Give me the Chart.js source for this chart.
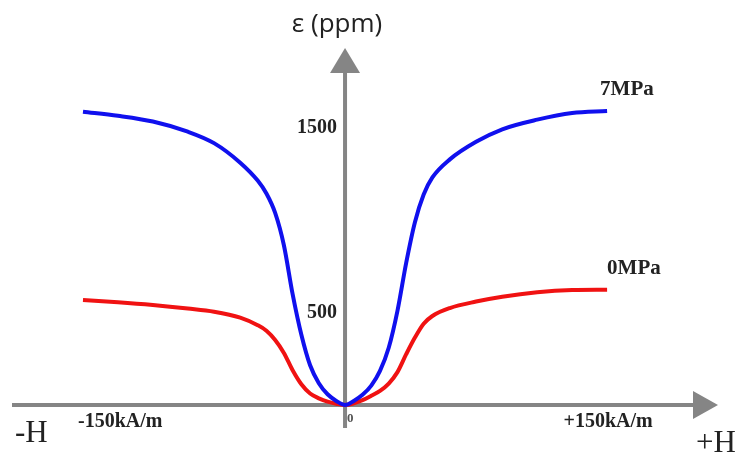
<!DOCTYPE html>
<html>
<head>
<meta charset="utf-8">
<title>Magnetostriction vs field</title>
<script src="https://cdn.jsdelivr.net/npm/chart.js@4/dist/chart.umd.min.js"></script>
<style>
  html, body { margin: 0; padding: 0; background: #fff; }
  #wrap { width: 739px; height: 453px; }
</style>
</head>
<body>
<div id="wrap"><canvas id="strainChart" width="739" height="453"></canvas></div>
<script>
// field H (kA/m) and strain (ppm) for each prestress
const fieldH = [-150, -130, -110, -90, -75, -60, -50, -45, -40, -35, -30, -25, -20, -15, -10, -5, 0,
  5, 10, 15, 20, 25, 30, 35, 40, 45, 50, 60, 75, 90, 110, 130, 150];
const strain7MPa = [1588, 1566, 1535, 1480, 1418, 1312, 1215, 1145, 1040, 865, 600, 380, 215, 118, 58, 22, 0,
  22, 55, 105, 185, 310, 510, 770, 990, 1140, 1232, 1330, 1425, 1493, 1545, 1581, 1592];
const strain0MPa = [568, 556, 541, 522, 505, 473, 432, 402, 352, 282, 188, 112, 62, 36, 18, 7, 0,
  9, 26, 50, 76, 116, 178, 275, 365, 440, 482, 525, 560, 586, 610, 622, 624];

const seriesNames = ['7MPa', '0MPa'];
const yTickValues = [1500, 500];
const xTickValues = [-150, 150];
const xTickLabels = ['-150kA/m', '+150kA/m'];

const axisGrey = '#858585';

function toPoints(ys) {
  return fieldH.map((h, i) => ({ x: h, y: ys[i] }));
}

// draws the cross-shaped axes with arrows, tick text and curve names
const crossAxes = {
  id: 'crossAxes',
  beforeDatasetsDraw(chart) {
    const { ctx, scales: { x, y } } = chart;
    const ox = x.getPixelForValue(0);
    const oy = y.getPixelForValue(0);
    ctx.save();
    ctx.strokeStyle = axisGrey;
    ctx.fillStyle = axisGrey;
    ctx.lineWidth = 4;
    // horizontal axis
    ctx.beginPath();
    ctx.moveTo(12, oy);
    ctx.lineTo(696, oy);
    ctx.stroke();
    ctx.beginPath();
    ctx.moveTo(718, oy);
    ctx.lineTo(693, oy - 14);
    ctx.lineTo(693, oy + 14);
    ctx.closePath();
    ctx.fill();
    // vertical axis
    ctx.beginPath();
    ctx.moveTo(ox, oy + 23);
    ctx.lineTo(ox, 70);
    ctx.stroke();
    ctx.beginPath();
    ctx.moveTo(ox, 48);
    ctx.lineTo(ox - 15, 73);
    ctx.lineTo(ox + 15, 73);
    ctx.closePath();
    ctx.fill();
    ctx.restore();
  },
  afterDatasetsDraw(chart) {
    const { ctx, scales: { x, y } } = chart;
    const ox = x.getPixelForValue(0);
    const oy = y.getPixelForValue(0);
    ctx.save();
    ctx.fillStyle = '#222';

    // y title
    ctx.font = '26px "Open Sans", sans-serif';
    ctx.textAlign = 'center';
    ctx.textBaseline = 'alphabetic';
    ctx.fillText('ε (ppm)', ox - 8, 32);

    // y ticks
    ctx.font = 'bold 20px "Liberation Serif", serif';
    ctx.textAlign = 'right';
    ctx.textBaseline = 'middle';
    yTickValues.forEach(v => ctx.fillText(String(v), ox - 8, y.getPixelForValue(v)));

    // origin
    ctx.font = 'bold 13px "Liberation Serif", serif';
    ctx.fillStyle = '#555';
    ctx.textAlign = 'left';
    ctx.fillText('0', ox + 2, oy + 14);
    ctx.fillStyle = '#222';

    // x ticks
    ctx.font = 'bold 20px "Liberation Serif", serif';
    ctx.textBaseline = 'alphabetic';
    ctx.textAlign = 'left';
    ctx.fillText(xTickLabels[0], x.getPixelForValue(xTickValues[0]) - 5, oy + 22);
    ctx.textAlign = 'center';
    ctx.fillText(xTickLabels[1], x.getPixelForValue(xTickValues[1]) + 1, oy + 22);

    // field direction labels
    ctx.font = '31px "Liberation Serif", serif';
    ctx.textAlign = 'left';
    ctx.fillText('-H', 15, 442);
    ctx.fillText('+H', 696, 452);

    // curve names at the right-hand ends
    ctx.font = 'bold 21px "Liberation Serif", serif';
    chart.data.datasets.forEach((ds, i) => {
      const last = ds.data[ds.data.length - 1];
      const px = x.getPixelForValue(last.x);
      const py = y.getPixelForValue(last.y);
      ctx.fillText(seriesNames[i], px - 7 + i * 7, py - 16);
    });
    ctx.restore();
  }
};

new Chart(document.getElementById('strainChart'), {
  type: 'scatter',
  data: {
    datasets: [
      {
        label: seriesNames[0],
        data: toPoints(strain7MPa),
        showLine: true,
        borderColor: '#1010ee',
        borderWidth: 4,
        pointRadius: 0,
        cubicInterpolationMode: 'monotone'
      },
      {
        label: seriesNames[1],
        data: toPoints(strain0MPa),
        showLine: true,
        borderColor: '#f01212',
        borderWidth: 4,
        pointRadius: 0,
        cubicInterpolationMode: 'monotone'
      }
    ]
  },
  options: {
    responsive: false,
    animation: false,
    layout: { padding: 0 },
    plugins: { legend: { display: false }, tooltip: { enabled: false } },
    scales: {
      x: { type: 'linear', min: -197.5, max: 225.5, display: false },
      y: { type: 'linear', min: -260, max: 2193, display: false }
    }
  },
  plugins: [crossAxes]
});
</script>
</body>
</html>
